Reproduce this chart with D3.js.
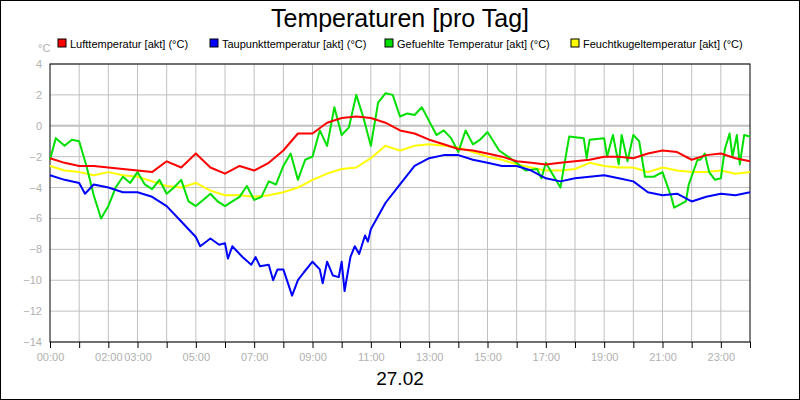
<!DOCTYPE html><html><head><meta charset="utf-8"><script src="https://cdn.jsdelivr.net/npm/d3@7"></script>
<style>body{margin:0;background:#fff}svg{font-family:Arial,"Liberation Sans",sans-serif}</style></head><body><svg id="c" width="800" height="400"></svg>
<script>
const halfHours = d3.range(0, 24.01, 0.5);
const luft = [-2.1,-2.4,-2.6,-2.6,-2.7,-2.8,-2.9,-3.0,-2.3,-2.7,-1.8,-2.7,-3.1,-2.6,-2.9,-2.4,-1.6,-0.5,-0.5,0.2,0.5,0.6,0.5,0.2,-0.3,-0.5,-0.9,-1.2,-1.5,-1.6,-1.8,-2.0,-2.3,-2.4,-2.5,-2.4,-2.3,-2.2,-2.0,-2.0,-2.1,-1.8,-1.6,-1.7,-2.2,-1.9,-1.8,-2.1,-2.3];
const tauHours = [0,0.5,1,1.2,1.5,2,2.5,3,3.5,4,4.5,5,5.15,5.5,5.8,6.0,6.1,6.25,6.6,6.9,7.05,7.2,7.5,7.65,7.8,8.0,8.3,8.5,8.7,9.0,9.25,9.35,9.5,9.7,9.9,10.0,10.1,10.3,10.45,10.6,10.8,10.9,11,11.5,12,12.5,13,13.5,14,14.5,15,15.5,16,16.5,17,17.5,18,18.5,19,19.5,20,20.5,21,21.5,22,22.5,23,23.5,24];
const taupunkt = [-3.2,-3.5,-3.7,-4.4,-3.8,-4.0,-4.3,-4.3,-4.6,-5.2,-6.2,-7.2,-7.8,-7.3,-7.7,-7.6,-8.6,-7.8,-8.5,-9.0,-8.5,-9.1,-9.0,-10.0,-9.3,-9.3,-11.0,-10.0,-9.5,-8.8,-9.3,-10.2,-8.8,-9.7,-9.8,-8.8,-10.7,-8.5,-7.8,-8.3,-7.1,-7.5,-6.7,-5.0,-3.8,-2.6,-2.1,-1.9,-1.9,-2.2,-2.4,-2.6,-2.6,-2.9,-3.4,-3.6,-3.4,-3.3,-3.2,-3.4,-3.6,-4.3,-4.5,-4.4,-4.9,-4.6,-4.4,-4.5,-4.3];
const feucht = [-2.6,-2.9,-3.0,-3.2,-3.0,-3.2,-3.3,-3.6,-3.9,-4.0,-3.7,-4.2,-4.5,-4.5,-4.6,-4.5,-4.3,-4.0,-3.5,-3.1,-2.8,-2.7,-2.1,-1.3,-1.6,-1.3,-1.2,-1.3,-1.4,-1.7,-2.0,-2.2,-2.5,-2.7,-2.9,-2.9,-2.8,-2.4,-2.6,-2.7,-2.7,-3.0,-2.7,-2.9,-3.0,-3.0,-2.9,-3.1,-3.0];
const gefHours = [0,0.2,0.5,0.75,1,1.25,1.5,1.75,2,2.25,2.5,2.75,3,3.25,3.5,3.75,4,4.25,4.5,4.75,5,5.25,5.5,5.75,6,6.25,6.5,6.75,7,7.25,7.5,7.75,8,8.25,8.5,8.75,9,9.25,9.5,9.75,10,10.25,10.5,10.75,11,11.25,11.5,11.75,12,12.25,12.5,12.75,13,13.25,13.5,13.75,14,14.25,14.5,14.75,15,15.4,15.7,16,16.3,16.7,16.85,17,17.5,17.8,18.3,18.4,18.5,19,19.1,19.3,19.5,19.6,19.8,20,20.2,20.4,20.7,21,21.3,21.4,21.8,21.9,22.2,22.3,22.45,22.6,22.8,23,23.14,23.3,23.4,23.55,23.65,23.8,24];
const gefuehlt = [-2.2,-0.8,-1.3,-0.9,-1.0,-2.6,-4.5,-6.0,-5.2,-4.0,-3.3,-3.7,-3.0,-3.8,-4.1,-3.5,-4.4,-4.0,-3.5,-4.9,-5.2,-4.8,-4.4,-4.9,-5.2,-4.9,-4.6,-3.9,-4.8,-4.6,-3.6,-3.8,-2.6,-1.8,-3.5,-2.2,-2.0,-0.3,-1.3,1.2,-0.6,-0.1,2.0,0.5,-1.3,1.5,2.1,2.0,0.6,0.8,0.7,1.2,0.3,-0.6,-0.3,-0.8,-1.7,-0.3,-1.2,-0.9,-0.4,-1.6,-2.0,-2.4,-2.9,-2.8,-3.4,-2.4,-4.0,-0.7,-0.8,-2.1,-0.9,-0.8,-2.0,-0.6,-2.5,-0.6,-2.3,-0.6,-1.0,-3.3,-3.3,-3.0,-4.6,-5.3,-4.9,-3.8,-2.2,-2.2,-1.8,-3.0,-3.5,-3.4,-1.5,-0.5,-2.0,-0.6,-2.5,-0.6,-0.7];
const seriesNames = ["Lufttemperatur [akt] (°C)","Taupunkttemperatur [akt] (°C)","Gefuehlte Temperatur [akt] (°C)","Feuchtkugeltemperatur [akt] (°C)"];
const colors = ["#ff0000","#0000ff","#00e000","#ffff00"];
const xTickHours = [0,2,3,5,7,9,11,13,15,17,19,21,23];
const yTicks = [4,2,0,-2,-4,-6,-8,-10,-12,-14];

const svg = d3.select("#c");
svg.append("rect").attr("x",0.5).attr("y",0.5).attr("width",799).attr("height",399).attr("fill","#fff").attr("stroke","#000");
const L=50,R=750,T=64,B=342;
const x = d3.scaleLinear().domain([0,24]).range([L,R]);
const y = d3.scaleLinear().domain([-14,4]).range([B,T]);
const g = svg.append("g");
d3.range(1,24).forEach(h=>g.append("line").attr("x1",x(h)).attr("x2",x(h)).attr("y1",T).attr("y2",B).attr("stroke","#c0c0c0"));
yTicks.forEach(v=>g.append("line").attr("x1",L).attr("x2",R).attr("y1",y(v)).attr("y2",y(v)).attr("stroke","#c0c0c0").attr("stroke-width",v===0?2:1));
svg.append("rect").attr("x",L).attr("y",T).attr("width",R-L).attr("height",B-T).attr("fill","none").attr("stroke","#000");
const ya = svg.append("g").attr("transform",`translate(${L},0)`).call(d3.axisLeft(y).tickValues(yTicks).tickSize(0).tickPadding(8));
ya.select(".domain").remove();
ya.selectAll("text").attr("fill","#b0b0b0").style("font-size","11px").attr("font-family","Arial");
const xa = svg.append("g").attr("transform",`translate(0,${B})`).call(d3.axisBottom(x).tickValues(d3.range(0,25)).tickSize(6).tickFormat(h=>xTickHours.includes(h)?String(h).padStart(2,"0")+":00":""));
xa.select(".domain").remove();
xa.selectAll("line").attr("stroke","#000");
xa.selectAll("text").attr("fill","#b0b0b0").style("font-size","11px").attr("font-family","Arial").attr("dy","0.9em");
const line = d3.line().x(d=>x(d[0])).y(d=>y(d[1]));
const plot = svg.append("g");
const data = [halfHours.map((h,i)=>[h,luft[i]]), tauHours.map((h,i)=>[h,taupunkt[i]]), gefHours.map((h,i)=>[h,gefuehlt[i]]), halfHours.map((h,i)=>[h,feucht[i]])];
[3,2,1,0].forEach(i=>plot.append("path").attr("d",line(data[i])).attr("fill","none").attr("stroke",colors[i]).attr("stroke-width",2).attr("stroke-linejoin","round"));
svg.append("text").attr("x",400).attr("y",27).attr("text-anchor","middle").style("font-size","25px").text("Temperaturen [pro Tag]");
svg.append("text").attr("x",38).attr("y",52).attr("fill","#b0b0b0").style("font-size","11px").text("°C");
const legX=[58,210,385,571];
seriesNames.forEach((n,i)=>{
  svg.append("rect").attr("x",legX[i]).attr("y",39).attr("width",8).attr("height",8).attr("fill",colors[i]).attr("stroke","#000");
  svg.append("text").attr("x",legX[i]+12).attr("y",48).style("font-size","11px").text(n);
});
svg.append("text").attr("x",400).attr("y",385).attr("text-anchor","middle").style("font-size","19px").text("27.02");
</script></body></html>
